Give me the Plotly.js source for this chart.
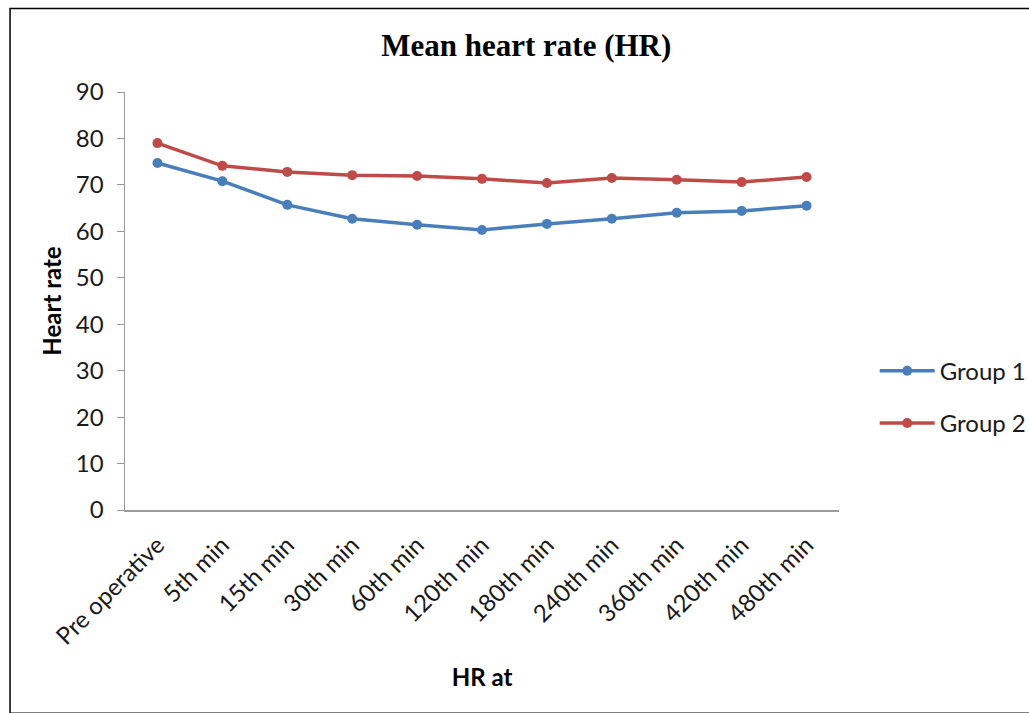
<!DOCTYPE html>
<html>
<head>
<meta charset="utf-8">
<script src="https://cdn.plot.ly/plotly-3.0.1.min.js"></script>
<style>html,body{margin:0;padding:0;background:#fff;}#chart{width:1029px;height:713px;}</style>
</head>
<body>
<div id="chart"></div>
<script>
var categories = ["Pre operative","5th min","15th min","30th min","60th min","120th min","180th min","240th min","360th min","420th min","480th min"];
var group1 = [74.7, 70.8, 65.7, 62.7, 61.4, 60.3, 61.6, 62.7, 64.0, 64.4, 65.5];
var group2 = [79.0, 74.1, 72.8, 72.1, 71.9, 71.3, 70.4, 71.5, 71.1, 70.6, 71.7];
var yTicks = [0,10,20,30,40,50,60,70,80,90];

var traces = [
  {x: categories, y: group1, name: "Group 1", type: "scatter", mode: "lines+markers",
   legendgroup: "g1",
   line: {color: "#4a7ebb", width: 3.5}, marker: {color: "#4a7ebb", size: 10, symbol: "circle"}},
  {x: categories, y: group2, name: "Group 2", type: "scatter", mode: "lines+markers",
   legendgroup: "g2",
   line: {color: "#be4b48", width: 3.5}, marker: {color: "#be4b48", size: 10, symbol: "circle"}}
];

var tickFont = {family: "Lato, Open Sans, sans-serif", size: 24, color: "#1a1a1a"};
var axisTitleFont = {family: "Lato, Open Sans, sans-serif", size: 24, color: "#000"};

var layout = {
  width: 1029, height: 713,
  margin: {l: 125, r: 190, t: 92, b: 203, autoexpand: false},
  paper_bgcolor: "#ffffff", plot_bgcolor: "#ffffff",
  title: {text: "<b>Mean heart rate (HR)</b>", x: 0.562, xref: "paper", xanchor: "center", y: 0.937, yanchor: "middle",
          font: {family: "Liberation Serif, Times New Roman, serif", size: 31, color: "#000"}},
  xaxis: {
    type: "category", tickangle: -45, showgrid: false, zeroline: false, automargin: false,
    showline: true, linecolor: "#9a9a9a", linewidth: 1.5,
    ticks: "", tickfont: tickFont, ticklabelstandoff: 10,
    range: [-0.5, 10.5],
    title: {text: "<b>HR at</b>", font: axisTitleFont, standoff: 20}
  },
  yaxis: {
    range: [0, 90], tickvals: yTicks, showgrid: false, zeroline: false, automargin: false,
    showline: true, linecolor: "#9a9a9a", linewidth: 1.5,
    ticks: "outside", ticklen: 7, tickcolor: "#9a9a9a",
    tickfont: tickFont, ticklabelstandoff: 8,
    title: {text: "<b>Heart rate</b>", font: axisTitleFont, standoff: 7}
  },
  showlegend: true,
  legend: {x: 1.05, y: 0.27, xanchor: "left", yanchor: "middle", tracegroupgap: 18, itemwidth: 55,
           font: tickFont, bgcolor: "rgba(0,0,0,0)"},
  shapes: [
    {type: "rect", xref: "paper", yref: "paper", x0: -0.161, x1: 1.3, y0: -0.486, y1: 1.2,
     line: {color: "#000", width: 1.5}, fillcolor: "rgba(0,0,0,0)", layer: "below"}
  ]
};

Plotly.newPlot("chart", traces, layout, {displayModeBar: false, staticPlot: true});
</script>
</body>
</html>
